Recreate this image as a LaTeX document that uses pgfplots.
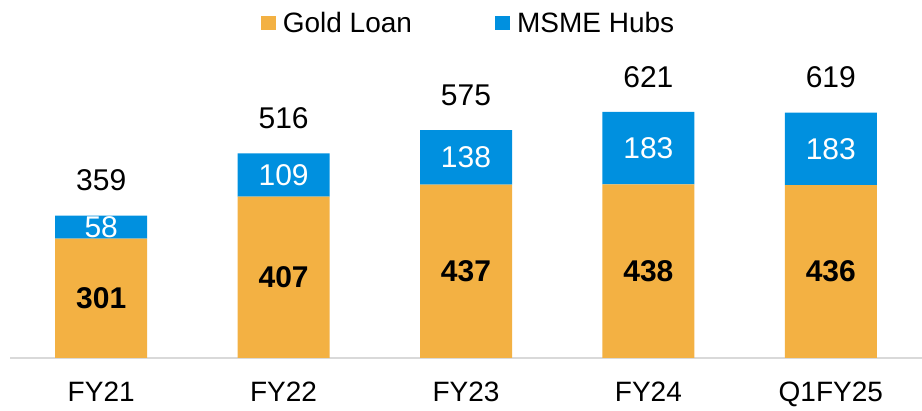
\documentclass[border=0pt]{standalone}
\usepackage{pgfplots}
\pgfplotsset{compat=1.18}
\usepackage{pgfplotstable}
\usepackage{fontspec}
\setmainfont{Liberation Sans}

\definecolor{goldbar}{HTML}{F3B143}
\definecolor{msmebar}{HTML}{0090DF}
\definecolor{baseline}{HTML}{D9D9D9}

% branches per year: gold loan, MSME hubs, total
\pgfplotstableread{
x gold msme total
0 301 58  359
1 407 109 516
2 437 138 575
3 438 183 621
4 436 183 619
}\branches

\pgfplotsset{
    branchaxis/.style={
        at={(10pt,53pt)}, anchor=south west,
        scale only axis,
        width=912pt, height=317.2pt,
        bar width=92pt,
        xmin=-0.5, xmax=4.5, ymin=0, ymax=800,
        enlargelimits=false,
    },
}

\begin{document}
\begin{tikzpicture}
\path[use as bounding box] (0pt,0pt) rectangle (922pt,411pt);
\begin{axis}[
    branchaxis,
    ybar stacked,
    xtick=data, xticklabels={FY21,FY22,FY23,FY24,Q1FY25},
    ytick=\empty,
    axis x line*=bottom, axis y line=none,
    x axis line style={draw=baseline, line width=1.5pt, -},
    major tick length=0pt,
    xticklabel style={font=\fontsize{28}{30}\selectfont, inner sep=0pt, anchor=north, yshift=-24pt},
    legend style={at={(0.5,1)}, anchor=south, yshift=3pt, xshift=2.5pt, draw=none, fill=none,
        legend columns=2, font=\fontsize{28}{30}\selectfont,
        /tikz/every even column/.append style={column sep=81pt}},
    legend image code/.code={\fill[#1] (0pt,-7pt) rectangle (15pt,7pt); \path (20pt,0pt);},
]
% stacked segment labels are centred in each segment
\addplot[fill=goldbar, draw=none, nodes near coords, point meta=explicit symbolic,
    every node near coord/.append style={anchor=center,
        font=\fontsize{30}{32}\selectfont\bfseries, text=black}]
    table[x=x, y=gold, meta=gold] {\branches};
\addplot[fill=msmebar, draw=none, nodes near coords, point meta=explicit symbolic,
    every node near coord/.append style={anchor=center,
        font=\fontsize{30}{32}\selectfont, text=white}]
    table[x=x, y=msme, meta=msme] {\branches};
\legend{Gold Loan, MSME Hubs}
\end{axis}
% totals on top, same geometry
\begin{axis}[
    branchaxis, ybar, hide axis,
]
\addplot[draw=none, fill=none, nodes near coords, point meta=explicit symbolic,
    every node near coord/.append style={anchor=center, yshift=35pt,
        font=\fontsize{30}{32}\selectfont, text=black}]
    table[x=x, y=total, meta=total] {\branches};
\end{axis}
\end{tikzpicture}
\end{document}
